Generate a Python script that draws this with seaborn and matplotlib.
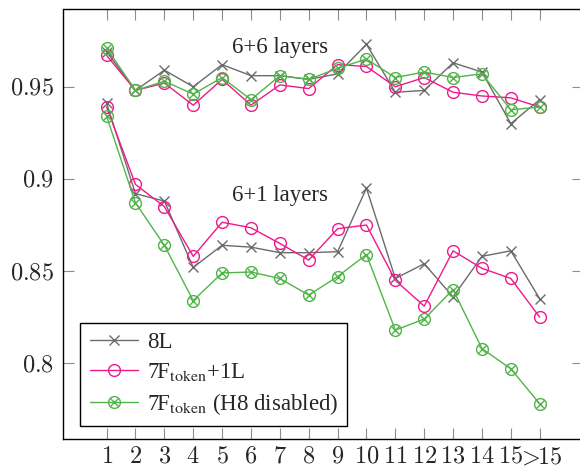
import pandas as pd
import matplotlib
matplotlib.use("Agg")
import matplotlib.pyplot as plt
import seaborn as sns
from matplotlib.font_manager import FontProperties
from matplotlib.legend_handler import HandlerTuple

# x categories
tick_labels = ['1', '2', '3', '4', '5', '6', '7', '8', '9', '10', '11', '12', '13', '14', '15', r'>\!\!15']
positions = list(range(1, 17))

# 6+6 layers
top_8l = [0.969, 0.948, 0.959, 0.950, 0.962, 0.956, 0.956, 0.954, 0.957, 0.973, 0.947, 0.948, 0.963, 0.958, 0.930, 0.943]
top_7f1l = [0.967, 0.948, 0.952, 0.940, 0.954, 0.940, 0.951, 0.949, 0.962, 0.961, 0.950, 0.955, 0.947, 0.945, 0.944, 0.939]
top_h8 = [0.971, 0.948, 0.953, 0.946, 0.955, 0.943, 0.956, 0.954, 0.960, 0.965, 0.955, 0.958, 0.955, 0.957, 0.9375, 0.939]

# 6+1 layers
bot_8l = [0.941, 0.892, 0.888, 0.852, 0.864, 0.863, 0.860, 0.860, 0.8605, 0.895, 0.846, 0.854, 0.836, 0.858, 0.861, 0.835]
bot_7f1l = [0.939, 0.897, 0.885, 0.858, 0.8765, 0.8735, 0.865, 0.856, 0.873, 0.875, 0.845, 0.831, 0.861, 0.8515, 0.846, 0.825]
bot_h8 = [0.934, 0.887, 0.864, 0.834, 0.849, 0.8495, 0.846, 0.837, 0.847, 0.859, 0.818, 0.824, 0.840, 0.808, 0.797, 0.778]

y_ticks = [0.8, 0.85, 0.9, 0.95]
y_tick_labels = ['0.8', '0.85', '0.9', '0.95']

series_names = ['8L', r'7F$_{\mathrm{token}}$+1L', r'7F$_{\mathrm{token}}$ (H8 disabled)']
colors = ['#6b6b6b', '#f0198c', '#50b548']

sns.set_style('ticks')
plt.rcParams['font.family'] = ['Liberation Serif', 'DejaVu Serif']
plt.rcParams['mathtext.fontset'] = 'stix'

fig = plt.figure(figsize=(5.8, 4.67), dpi=100)
ax = fig.add_axes([63.3 / 580, 28.5 / 467, (583 - 63.3) / 580, (438.5 - 9.5) / 467])

groups = {'top': [top_8l, top_7f1l, top_h8], 'bot': [bot_8l, bot_7f1l, bot_h8]}
handles = [None, None, None]
for g, vals in groups.items():
    for i, v in enumerate(vals):
        df = pd.DataFrame({'pos': positions, 'acc': v})
        if i == 0:
            sns.lineplot(data=df, x='pos', y='acc', ax=ax, color=colors[0], lw=1.0,
                         marker='x', markersize=6.5, mec=colors[0], mew=1.0)
            handles[0] = ax.lines[-1]
        else:
            sns.lineplot(data=df, x='pos', y='acc', ax=ax, color=colors[i], lw=1.0,
                         marker='o', markersize=8.5, mfc='none', mec=colors[i], mew=1.0)
            line = ax.lines[-1]
            if i == 2:
                # cross inside the circle -> ⊗ marker
                sns.lineplot(data=df, x='pos', y='acc', ax=ax, color=colors[i], lw=0,
                             linestyle='', marker='x', markersize=5.5, mec=colors[i], mew=1.0)
                handles[2] = (line, ax.lines[-1])
            else:
                handles[1] = line

ax.set_xlim(-0.5, 17.5)
ax.set_ylim(0.7592, 0.9919)
ax.set_xticks(positions)
ax.set_yticks(y_ticks)
ax.set_xlabel('')
ax.set_ylabel('')

cm_font = FontProperties(size=17.5, math_fontfamily='cm')
ax.set_xticklabels(['$' + t + '$' for t in tick_labels], fontproperties=cm_font)
ax.set_yticklabels(['$' + t + '$' for t in y_tick_labels], fontproperties=cm_font)

ax.tick_params(direction='in', length=8, width=0.8, color='#8c8c8c',
               top=True, right=True, pad=7)
ax.tick_params(axis='x', pad=6)
for s in ax.spines.values():
    s.set_visible(True)
    s.set_color('black')
    s.set_linewidth(1.0)

ax.text(7, 0.9712, '6+6 layers', ha='center', va='center', fontsize=16.5)
ax.text(7, 0.8908, '6+1 layers', ha='center', va='center', fontsize=16.5)

leg_font = FontProperties(family='Liberation Serif', size=16.5, math_fontfamily='stix')
leg = ax.legend(handles, series_names, loc='lower left', bbox_to_anchor=(0.033, 0.029),
                borderaxespad=0, prop=leg_font, frameon=True, fancybox=False,
                handlelength=2.1, handletextpad=0.4, labelspacing=0.35, borderpad=0.4,
                handler_map={tuple: HandlerTuple(ndivide=1)})
leg.get_frame().set_edgecolor('black')
leg.get_frame().set_linewidth(1.0)
leg.get_frame().set_alpha(1)

plt.savefig('out.png', dpi=100)
